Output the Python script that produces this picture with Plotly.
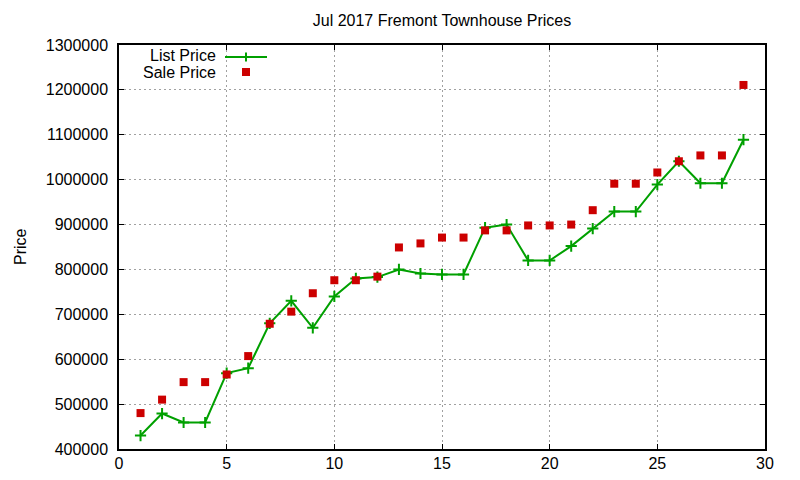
import plotly.graph_objects as go

days = list(range(1, 30))
list_price = [430000, 479000, 459000, 459000, 569000, 580000, 680000, 730000, 670000, 740000,
              780000, 783000, 800000, 791000, 789000, 789000, 893000, 900000, 820000, 820000,
              852000, 891000, 929000, 929000, 989000, 1041000, 992000, 992000, 1089000]
sale_price = [480000, 510000, 549000, 549000, 566000, 607000, 679000, 706000, 747000, 776000,
              776000, 784000, 849000, 858000, 871000, 871000, 887000, 887000, 898000, 898000,
              900000, 932000, 991000, 991000, 1016000, 1041000, 1054000, 1054000, 1211000]

x_ticks = [0, 5, 10, 15, 20, 25, 30]
y_ticks = list(range(400000, 1300001, 100000))

GREEN = "#00a000"
RED = "#cc0000"
FONT = "Liberation Sans, Arial, sans-serif"

fig = go.Figure()
fig.add_trace(go.Scatter(
    x=days, y=list_price, mode="lines+markers", name="List Price",
    line=dict(color=GREEN, width=2),
    marker=dict(symbol="cross-thin-open", size=8, color=GREEN, line=dict(color=GREEN, width=2)),
))
fig.add_trace(go.Scatter(
    x=days, y=sale_price, mode="markers", name="Sale Price",
    marker=dict(symbol="square", size=8, color=RED, line=dict(width=0)),
))

# the page body has an 8px margin on every side; keep the figure inside the window
OFF = 8
W, H = 800 - 2 * OFF, 480 - 2 * OFF
# plot area in window pixels: left 119, right 765, top 45, bottom 449
L, R, T, B = 119 - OFF, (OFF + W) - 765, 45 - OFF, (OFF + H) - 449
pw, ph = W - L - R, H - T - B

def px(xw):
    return (xw - OFF - L) / pw

def py(yw):
    return 1 - (yw - OFF - T) / ph

axis_common = dict(
    showline=True, linecolor="black", linewidth=1.5, mirror="allticks",
    ticks="inside", ticklen=5, tickcolor="black", tickwidth=1,
    showgrid=True, gridcolor="#a0a0a0", gridwidth=1, griddash="2px,3px",
    zeroline=False, automargin=False,
    tickfont=dict(family=FONT, size=16, color="black"),
)

fig.update_layout(
    width=W, height=H,
    margin=dict(l=L, r=R, t=T, b=B),
    paper_bgcolor="white", plot_bgcolor="white",
    showlegend=False,
    font=dict(family=FONT, size=16, color="black"),
    title=dict(text="Jul 2017 Fremont Townhouse Prices", x=0.5, xanchor="center",
               xref="paper", y=1 - (20 - OFF) / H, yref="container", yanchor="middle",
               font=dict(family=FONT, size=16, color="black")),
    xaxis=dict(range=[0, 30], tickvals=x_ticks, ticktext=[str(v) for v in x_ticks],
               ticklabelstandoff=-1, **axis_common),
    yaxis=dict(range=[400000, 1300000], tickvals=y_ticks, ticktext=[str(v) for v in y_ticks],
               ticklabelstandoff=6, **axis_common),
)

annotations = [
    dict(text="Price", x=px(20), y=0.5, xref="paper", yref="paper", textangle=-90,
         showarrow=False, xanchor="center", yanchor="middle", borderpad=0,
         font=dict(family=FONT, size=16, color="black")),
    dict(text="List Price", x=px(217), y=py(55), xref="paper", yref="paper",
         showarrow=False, xanchor="right", yanchor="middle", borderpad=0,
         font=dict(family=FONT, size=16, color="black")),
    dict(text="Sale Price", x=px(217), y=py(72), xref="paper", yref="paper",
         showarrow=False, xanchor="right", yanchor="middle", borderpad=0,
         font=dict(family=FONT, size=16, color="black")),
]
fig.update_layout(annotations=annotations)

shapes = [
    dict(type="line", xref="paper", yref="paper", x0=px(225), x1=px(267), y0=py(57), y1=py(57),
         line=dict(color=GREEN, width=2)),
    dict(type="line", xref="paper", yref="paper", xsizemode="pixel", ysizemode="pixel",
         xanchor=px(246), yanchor=py(57), x0=0, x1=0, y0=-4.5, y1=4.5,
         line=dict(color=GREEN, width=2)),
    dict(type="rect", xref="paper", yref="paper", xsizemode="pixel", ysizemode="pixel",
         xanchor=px(246), yanchor=py(72), x0=-4, x1=4, y0=-4, y1=4,
         fillcolor=RED, line=dict(width=0)),
]
fig.update_layout(shapes=shapes)

fig.write_html("out.html")
